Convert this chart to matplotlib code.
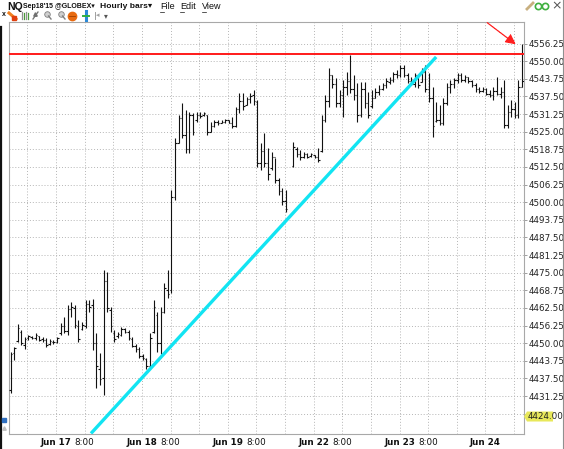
import numpy as np
import matplotlib
matplotlib.use("Agg")
import matplotlib.pyplot as plt
from matplotlib.patches import Polygon

nan = np.nan

# hourly OHLC, NQ Sep15, one bar per hour (nan = session gap)
H = [4447.0, 4448.75, 4456.75, 4454.75, 4452.25, 4453.0, 4452.5, 4453.5, 4452.5, 4452.25,
     4452.0, 4451.5, 4451.0, 4452.25, 4457.0, 4459.25, 4463.5, 4464.5, 4463.5, 4458.25,
     4457.5, 4465.25, 4465.25, 4465.5, 4453.75, 4446.5, 4476.0, 4475.25, 4462.75, 4454.75,
     4454.0, 4455.75, 4455.5, 4454.75, 4452.25, 4449.75, 4448.75, 4446.25, 4444.75, 4453.5,
     4465.25, 4461.0, 4462.75, 4471.25, 4476.0, 4504.25, 4522.75, 4531.0, 4535.25, 4532.75,
     4532.0, 4531.75, 4532.0, 4532.0, 4532.0, 4531.0, 4528.5, 4529.0, 4529.0, 4529.0,
     4529.5, 4529.0, 4530.25, 4533.75, 4538.75, 4538.75, 4537.25, 4538.75, 4539.75, 4536.25,
     4521.0, 4524.5, 4519.25, 4517.75, 4515.75, 4508.5, 4505.0, 4504.25, nan, 4521.25,
     4519.5, 4518.5, 4517.75, 4517.5, 4517.5, 4516.75, 4519.25, 4531.0, 4538.0, 4547.5,
     4545.0, 4544.0, 4539.75, 4543.25, 4546.25, 4552.25, 4545.0, 4542.25, 4542.5, 4542.5,
     4539.0, 4539.75, 4540.5, 4541.5, 4542.25, 4544.0, 4544.5, 4546.25, 4546.75, 4548.5,
     4548.5, 4545.75, 4544.5, 4545.75, 4544.75, 4547.5, 4548.5, 4545.75, 4540.75, 4535.5,
     4534.5, 4537.0, 4542.25, 4543.25, 4544.0, 4545.75, 4545.75, 4545.0, 4544.5, 4543.25,
     4542.25, 4540.75, 4540.75, 4540.5, 4539.75, 4540.75, 4544.5, 4540.75, 4543.25, 4534.5,
     4536.25, 4535.5, 4543.25, 4556.0]
L = [4432.5, 4444.0, 4450.5, 4449.5, 4448.0, 4451.25, 4451.5, 4451.0, 4450.75, 4450.5,
     4448.75, 4449.5, 4449.75, 4450.0, 4453.0, 4453.5, 4453.0, 4459.25, 4455.25, 4450.5,
     4454.75, 4455.25, 4461.0, 4447.5, 4434.25, 4435.25, 4431.75, 4461.0, 4454.0, 4450.5,
     4452.0, 4452.5, 4453.5, 4451.0, 4448.75, 4447.0, 4444.75, 4444.0, 4441.0, 4441.5,
     4453.5, 4447.0, 4446.0, 4460.75, 4466.0, 4467.75, 4500.75, 4521.0, 4522.75, 4517.5,
     4517.5, 4523.75, 4528.5, 4529.75, 4530.5, 4523.75, 4524.75, 4526.75, 4527.25, 4528.0,
     4528.0, 4528.0, 4526.25, 4526.75, 4531.75, 4532.75, 4534.5, 4535.25, 4534.5, 4512.5,
     4511.5, 4512.5, 4508.0, 4511.5, 4506.75, 4502.5, 4499.0, 4496.5, nan, 4512.5,
     4516.0, 4515.0, 4515.5, 4515.5, 4516.0, 4515.5, 4514.25, 4517.75, 4528.5, 4533.75,
     4540.5, 4533.75, 4533.75, 4530.25, 4538.0, 4538.75, 4536.25, 4528.5, 4530.25, 4533.5,
     4529.75, 4533.5, 4537.0, 4538.0, 4539.75, 4540.5, 4541.75, 4542.5, 4544.0, 4544.5,
     4544.5, 4542.25, 4541.5, 4540.75, 4540.5, 4542.5, 4539.0, 4535.5, 4523.0, 4528.5,
     4527.25, 4527.25, 4534.5, 4538.75, 4540.5, 4542.25, 4542.5, 4542.5, 4542.25, 4540.75,
     4539.0, 4538.75, 4539.0, 4538.0, 4537.25, 4536.25, 4538.0, 4537.0, 4526.25, 4526.25,
     4530.25, 4529.75, 4529.75, 4540.75]
O = [4433.5, 4446.5, 4450.75, 4454.0, 4449.5, 4451.75, 4452.25, 4451.75, 4452.5, 4451.5,
     4451.0, 4449.75, 4450.5, 4450.5, 4453.5, 4456.0, 4454.5, 4462.25, 4462.5, 4456.0,
     4455.0, 4456.0, 4464.0, 4463.5, 4450.0, 4441.0, 4437.5, 4472.0, 4461.75, 4453.5,
     4452.5, 4453.0, 4455.0, 4454.0, 4451.5, 4449.0, 4448.0, 4445.5, 4444.5, 4442.0,
     4454.0, 4460.0, 4450.0, 4461.0, 4469.0, 4468.75, 4502.0, 4521.0, 4530.0, 4524.0,
     4519.0, 4531.0, 4529.0, 4531.0, 4530.75, 4531.0, 4525.0, 4527.0, 4528.5, 4528.25,
     4528.5, 4529.0, 4528.25, 4527.0, 4533.0, 4536.0, 4534.5, 4536.5, 4538.0, 4535.5,
     4514.0, 4518.0, 4514.0, 4512.0, 4516.0, 4508.0, 4504.0, 4500.5, nan, 4513.0,
     4519.0, 4517.0, 4516.0, 4517.0, 4516.25, 4516.75, 4516.0, 4518.0, 4529.0, 4536.0,
     4545.0, 4542.0, 4535.0, 4538.0, 4541.0, 4543.0, 4540.0, 4538.0, 4531.0, 4540.0,
     4535.0, 4534.0, 4537.0, 4539.0, 4540.0, 4541.5, 4542.5, 4543.5, 4545.5, 4545.0,
     4547.5, 4545.0, 4543.0, 4542.0, 4545.0, 4542.75, 4546.0, 4540.0, 4537.0, 4528.75,
     4529.0, 4528.0, 4535.0, 4541.0, 4542.0, 4543.25, 4545.0, 4543.5, 4544.5, 4543.0,
     4541.5, 4540.0, 4539.5, 4540.0, 4538.5, 4538.0, 4539.5, 4538.5, 4539.0, 4527.5,
     4532.0, 4533.0, 4531.0, 4541.0]
C = [4446.0, 4448.25, 4455.5, 4450.0, 4451.5, 4452.5, 4451.75, 4453.0, 4451.25, 4451.0,
     4449.5, 4450.75, 4450.25, 4451.75, 4456.25, 4454.25, 4462.0, 4463.0, 4456.5, 4451.5,
     4456.5, 4464.0, 4463.0, 4450.0, 4442.0, 4437.25, 4472.0, 4462.5, 4456.25, 4451.5,
     4453.25, 4455.0, 4454.0, 4451.75, 4449.0, 4448.0, 4445.5, 4444.75, 4442.0, 4452.0,
     4463.0, 4450.0, 4461.0, 4469.5, 4467.5, 4502.0, 4521.0, 4530.0, 4524.0, 4519.0,
     4531.0, 4525.0, 4531.0, 4530.5, 4531.75, 4524.75, 4527.0, 4528.5, 4528.0, 4528.5,
     4529.0, 4528.25, 4527.0, 4533.0, 4536.0, 4534.0, 4536.5, 4537.75, 4535.75, 4514.0,
     4518.0, 4514.0, 4510.0, 4516.0, 4508.0, 4504.0, 4500.5, 4497.5, nan, 4519.5,
     4517.0, 4516.0, 4517.25, 4516.0, 4517.0, 4516.0, 4515.0, 4529.0, 4536.0, 4545.0,
     4542.0, 4535.0, 4538.0, 4541.0, 4543.0, 4540.0, 4538.0, 4531.0, 4540.0, 4535.0,
     4531.0, 4537.0, 4539.0, 4540.0, 4541.5, 4543.0, 4543.5, 4545.5, 4545.0, 4547.5,
     4545.0, 4543.0, 4542.0, 4545.0, 4541.5, 4546.0, 4540.0, 4537.0, 4527.0, 4529.0,
     4528.0, 4535.0, 4541.0, 4542.0, 4543.25, 4545.0, 4543.5, 4544.5, 4543.0, 4541.5,
     4540.0, 4539.5, 4540.0, 4538.5, 4538.0, 4539.5, 4538.5, 4539.0, 4527.5, 4532.0,
     4533.0, 4531.0, 4541.0, 4543.0]

# x axis labels, one per 8h gridline ('' = 16:00 line without label)
xlabels = ['', 'Jun 17', '8:00', '', 'Jun 18', '8:00', '', 'Jun 19', '8:00', '',
           'Jun 22', '8:00', '', 'Jun 23', '8:00', '', 'Jun 24', '']
resistance = 4552.5                       # red horizontal line
trend = ([22.5, 119.0], [4418.0, 4551.5])  # cyan trendline (bar index, price)
last_label = 4424.00

W, Hpx = 564, 449
fig = plt.figure(figsize=(W / 100, Hpx / 100), dpi=100)
fig.patch.set_facecolor('white')

def fx(px):
    return px / W

def fy(py):
    return 1 - py / Hpx

ax_l, ax_r, ax_t, ax_b = 9, 524, 22, 434
ax = fig.add_axes([fx(ax_l), fy(ax_b), fx(ax_r - ax_l), fy(ax_t) - fy(ax_b)])

H = np.array(H); L = np.array(L); O = np.array(O); C = np.array(C)
x = np.arange(len(H))
ok = ~np.isnan(H)
bar_col = '#111111'
ax.vlines(x[ok], L[ok], H[ok], color=bar_col, lw=0.8, zorder=3)
ax.hlines(O[ok], x[ok] - 0.42, x[ok], color=bar_col, lw=0.8, zorder=3)
ax.hlines(C[ok], x[ok], x[ok] + 0.42, color=bar_col, lw=0.8, zorder=3)

ax.axhline(resistance, color='#ff1a1a', lw=1.4, zorder=4)
ax.plot(trend[0], trend[1], color='#12e4f2', lw=2.4, solid_capstyle='butt', zorder=5)

ax.set_xlim(-0.42, 143.55)
ax.set_ylim(4417.8, 4563.9)

yt = np.arange(4425.0, 4556.3, 6.25)
ax.set_yticks(yt)
ax.set_yticklabels(['' if abs(v - 4425) < 0.01 else '%.2f' % v for v in yt])
ax.yaxis.tick_right()
ax.tick_params(axis='y', length=2, width=0.6, color='#909090', pad=1.5,
               labelsize=6.3, labelcolor='#222222')

xt = 4.75 + 8 * np.arange(len(xlabels))
ax.set_xticks(xt)
ax.set_xticklabels(xlabels)
ax.tick_params(axis='x', length=0, pad=3, labelsize=6.3, labelcolor='#111111')
for t in ax.get_xticklabels():
    if t.get_text().startswith('Jun'):
        t.set_fontweight('bold')

ax.grid(True, color='#b5b5b5', lw=0.7, ls=(0, (1, 2)))
ax.set_axisbelow(True)
for s in ax.spines.values():
    s.set_color('#a8a8a8')
    s.set_linewidth(0.8)

# overlay for window chrome, in pixel coordinates
ov = fig.add_axes([0, 0, 1, 1], zorder=10)
ov.set_xlim(0, W)
ov.set_ylim(Hpx, 0)
ov.axis('off')
ov.patch.set_alpha(0)

hdr = dict(va='center', ha='left', color='#111111', family=['Liberation Sans', 'DejaVu Sans'])
ov.text(7, 6.5, 'NQ', fontsize=7.6, fontweight='bold', **hdr)
ov.text(23, 7, "Sep18'15 @GLOBEX\u25be", fontsize=5.0, fontweight='bold', **hdr)
ov.text(100, 6.5, 'Hourly bars\u25be', fontsize=6.1, fontweight='bold', **hdr)
for lbl, px in [('File', 160), ('Edit', 180), ('View', 202)]:
    ov.text(px, 6.5, lbl, fontsize=6.5, **hdr)
    ov.plot([px, px + 4], [11.5, 11.5], color='#111111', lw=0.5)

# toolbar icons (rough)
ov.text(2, 15, 'x', fontsize=5, fontweight='bold', **hdr)
ov.plot([9, 16], [13, 19], color='#f08020', lw=2.2)
ov.plot(14, 18, marker='s', ms=2.5, color='#e04010')
for k, px in enumerate([22, 24, 26, 28]):
    ov.plot([px, px], [12 + (k % 2), 19], color='#4a9a3a' if k % 2 else '#909090', lw=0.9)
ov.plot([33, 38], [19, 12], color='#707070', lw=0.9)
ov.plot(35, 14, marker='^', ms=2.5, color='#707070')
for px in (47, 61):
    ov.plot(px, 14, marker='o', ms=4, mfc='#d0d0d0', mec='#808080', mew=0.6)
    ov.plot([px + 1.5, px + 4], [16, 19], color='#808080', lw=1)
ov.plot(72, 15.5, marker='o', ms=6, color='#e86a10')
ov.plot([69, 75], [15.5, 15.5], color='#a04000', lw=0.6)
ov.plot([86, 86], [11, 20], color='#2a8ad8', lw=2.2)
ov.plot([83, 89], [15.5, 15.5], color='#30b040', lw=1.4)
ov.plot([95, 95], [12, 19], color='#a0a0a0', lw=0.7)
ov.text(96, 15.5, '◂', fontsize=5, color='#a0a0a0', va='center', ha='left')
ov.text(104, 15.5, '▾', fontsize=5.5, color='#555555', va='center', ha='left')

# top-right window icons
ov.plot([527, 533], [9, 3], color='#c8b080', lw=2)
ov.plot(538, 6, marker='o', ms=4.5, mfc='none', mec='#40b040', mew=1.2)
ov.plot(545, 6, marker='o', ms=4.5, mfc='none', mec='#40b040', mew=1.2)
ov.text(557, 6, '×', fontsize=9, color='#555555', ha='center', va='center')

# left / right window edges
ov.plot([0.7, 0.7], [27, Hpx], color='#111111', lw=1.6)
ov.plot([562.5, 562.5], [0, Hpx], color='#909090', lw=0.8)
ov.plot(4, 420, marker='s', ms=2.5, color='#3070c0')
ov.plot(4, 428, marker='^', ms=2.5, color='#c0c0c0')

# red arrow pointing at the resistance level
ov.annotate('', xy=(518, 46), xytext=(485, 21),
            arrowprops=dict(arrowstyle='-|>,head_length=0.6,head_width=0.3',
                            color='#ff2020', lw=0.9, ls=(0, (2, 0.6))))

# last price label, placed at its price on the axis
ypx = Hpx - ax.transData.transform((0, last_label))[1]
ov.add_patch(Polygon([[524, ypx], [527, ypx - 5], [553, ypx - 5], [553, ypx + 5], [527, ypx + 5]],
                     closed=True, fc='#e8e85a', ec='none'))
ov.text(527.5, ypx, '%.2f' % last_label, fontsize=6.3, color='#222222', va='center', ha='left')

fig.savefig('out.png', dpi=100)
